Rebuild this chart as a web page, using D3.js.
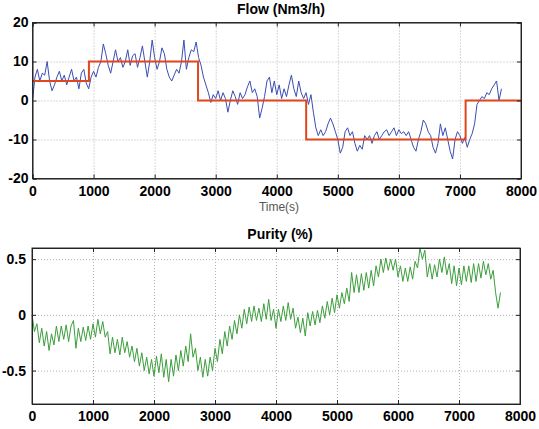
<!DOCTYPE html>
<html><head><meta charset="utf-8">
<script src="https://cdn.jsdelivr.net/npm/d3@7"></script>
<style>body{margin:0;background:#fff} svg{display:block} text{font-family:"Liberation Sans",Arial,sans-serif}</style>
</head><body><svg id="c" width="539" height="429"></svg>
<script>
// ---------- DATA ----------
const sampleStep = 40; // seconds between samples
const xTicks = [0,1000,2000,3000,4000,5000,6000,7000,8000];
const flowTicks = [-20,-10,0,10,20];
const purityTicks = [-0.5,0,0.5];
const setpointTimes = [0, 924, 2711, 4482, 7093, 8000];
const setpointValues = [5, 10, 0, -10, 0, 0];
const flowValues = [
 0,6,8,5,7,6.5,10,5,2.5,4,6,7.5,5,6.5,4,6,8,5,6,3,
 7,8,4.5,3,6,7.5,6,8.5,10,14.5,12,9,7,10,13,10,11,8.5,10,13,
 9,11.5,12,8.5,11,14,10,6,10,15.5,11,8,10,13.5,12,8,6,5,6.5,8,
 7,10,15.5,8,11,13,12.5,15,11,9,6,4,2,-0.5,1.5,0.5,2.5,0,2,0.5,
 -3,0,2.5,1,-1,2,0.5,1.5,3.5,5,2,3,1,-4.5,-2,1,5,6,2,5,
 1.5,4,0.5,3,1,4,6.5,3,1,5,2,0.5,2,-1,1.5,-3,-7,-9,-7.5,-9,
 -8,-6,-4.5,-6,-8,-10,-13.5,-12,-8,-7,-9,-8,-11,-13,-11.5,-12.5,-9,-10,-9,-11,
 -9,-8,-10,-9,-8,-7.5,-9,-8,-7,-9,-7.5,-8.5,-8,-9,-8,-10,-12,-13,-10,-8,
 -5,-6,-8,-9,-12,-13.5,-11,-6,-9,-7,-10,-13,-15,-10,-8,-9,-11,-9.5,-12,-10,
 -8.5,-6,-1,0,1,0.5,2,1.5,3,4,5,0,3
];
const purityValues = [
 0,-0.15,-0.08,-0.25,-0.12,-0.28,-0.15,-0.32,-0.17,-0.27,-0.1,-0.24,-0.1,-0.22,-0.09,-0.24,-0.1,-0.05,-0.3,-0.12,
 -0.24,-0.11,-0.23,-0.1,-0.22,-0.08,-0.2,-0.04,-0.17,-0.06,-0.2,-0.15,-0.35,-0.2,-0.34,-0.22,-0.36,-0.2,-0.34,-0.24,
 -0.38,-0.28,-0.42,-0.3,-0.46,-0.34,-0.5,-0.38,-0.53,-0.4,-0.55,-0.37,-0.52,-0.35,-0.56,-0.4,-0.6,-0.4,-0.55,-0.36,
 -0.5,-0.32,-0.46,-0.28,-0.42,-0.17,-0.38,-0.3,-0.5,-0.38,-0.56,-0.4,-0.55,-0.38,-0.5,-0.3,-0.42,-0.22,-0.35,-0.15,
 -0.28,-0.1,-0.22,-0.05,-0.17,0,-0.12,0.05,-0.08,0.07,-0.06,0.08,-0.05,0.06,-0.06,0.1,-0.04,0.14,-0.05,0.05,
 -0.12,0.05,-0.06,0.08,-0.05,0.11,-0.04,0.06,-0.12,-0.02,-0.16,-0.03,-0.19,0.02,-0.1,0.03,-0.09,0.04,-0.07,0.08,
 -0.03,0.12,0,0.15,0.02,0.18,0.06,0.2,0.1,0.24,0.12,0.38,0.2,0.36,0.2,0.37,0.22,0.38,0.24,0.4,
 0.26,0.44,0.34,0.5,0.38,0.51,0.4,0.5,0.4,0.5,0.34,0.44,0.3,0.42,0.3,0.43,0.32,0.48,0.42,0.6,
 0.5,0.58,0.34,0.46,0.32,0.45,0.34,0.5,0.38,0.52,0.36,0.46,0.28,0.44,0.26,0.42,0.27,0.44,0.3,0.44,
 0.29,0.46,0.3,0.46,0.33,0.48,0.36,0.46,0.32,0.4,0.2,0.06,0.2
];

// ---------- DRAW ----------
const svg = d3.select("#c");
const fmt = d => String(d);

function panel(o){
  const x = d3.scaleLinear().domain([0,8000]).range([o.L,o.R]);
  const y = d3.scaleLinear().domain(o.yDom).range([o.B,o.T]);
  const g = svg.append("g");
  const W = o.R-o.L, H = o.B-o.T;
  // grid
  g.append("g").attr("transform",`translate(0,${o.B})`)
    .call(d3.axisBottom(x).tickValues(xTicks).tickSize(-H).tickFormat(""))
    .call(s=>{s.select(".domain").remove();s.selectAll("line").attr("stroke","#b0b0b0").attr("stroke-dasharray","1,2");});
  g.append("g").attr("transform",`translate(${o.L},0)`)
    .call(d3.axisLeft(y).tickValues(o.yTicks).tickSize(-W).tickFormat(""))
    .call(s=>{s.select(".domain").remove();s.selectAll("line").attr("stroke","#b0b0b0").attr("stroke-dasharray","1,2");});
  o.draw(g,x,y);
  // frame
  g.append("rect").attr("x",o.L).attr("y",o.T).attr("width",W).attr("height",H)
    .attr("fill","none").attr("stroke","#333").attr("stroke-width",1);
  // axes with inward ticks
  const ax = g.append("g").attr("transform",`translate(0,${o.B})`)
    .call(d3.axisBottom(x).tickValues(xTicks).tickSize(-4).tickPadding(o.xPad).tickFormat(fmt));
  const ay = g.append("g").attr("transform",`translate(${o.L},0)`)
    .call(d3.axisLeft(y).tickValues(o.yTicks).tickSize(-4).tickPadding(o.yPad).tickFormat(fmt));
  g.append("g").attr("transform",`translate(0,${o.T})`)
    .call(d3.axisTop(x).tickValues(xTicks).tickSize(-4).tickFormat(""));
  g.append("g").attr("transform",`translate(${o.R},0)`)
    .call(d3.axisRight(y).tickValues(o.yTicks).tickSize(-4).tickFormat(""));
  g.selectAll(".domain").attr("stroke","#222");
  g.selectAll(".tick line").filter(function(){return !this.getAttribute("stroke-dasharray");}).attr("stroke","#222");
  [ax,ay].forEach(a=>a.selectAll("text").attr("font-family","'Liberation Sans',Arial,sans-serif")
     .attr("font-size",14).attr("font-weight","bold").attr("fill","#000"));
  // title
  svg.append("text").attr("x",o.titleX).attr("y",o.titleY).attr("text-anchor","middle")
    .attr("font-size",14).attr("font-weight","bold").attr("fill","#000").text(o.title);
  return {x,y};
}

panel({
  L:32.5,R:521,T:22.5,B:178.5,yDom:[-20,20],yTicks:flowTicks,xPad:7.5,yPad:4,
  title:"Flow (Nm3/h)",titleX:281,titleY:14,
  draw:(g,x,y)=>{
    const flow = flowValues.map((v,i)=>[i*sampleStep,v]);
    g.append("path").datum(flow).attr("fill","none").attr("stroke","#3b4db3").attr("stroke-width",1)
      .attr("d",d3.line().x(d=>x(d[0])).y(d=>y(d[1])));
    const sp = setpointTimes.map((t,i)=>[t,setpointValues[i]]);
    g.append("path").datum(sp).attr("fill","none").attr("stroke","#e2461c").attr("stroke-width",2)
      .attr("d",d3.line().curve(d3.curveStepAfter).x(d=>x(d[0])).y(d=>y(d[1])));
  }
});
svg.append("text").attr("x",279).attr("y",211).attr("text-anchor","middle")
  .attr("font-size",12).attr("fill","#555").text("Time(s)");

panel({
  L:32,R:520,T:248,B:404,yDom:[-0.8,0.6],yTicks:purityTicks,xPad:7,yPad:6,
  title:"Purity (%)",titleX:280,titleY:239,
  draw:(g,x,y)=>{
    const pur = purityValues.map((v,i)=>[i*sampleStep,v]);
    g.append("path").datum(pur).attr("fill","none").attr("stroke","#3c9e3c").attr("stroke-width",1)
      .attr("d",d3.line().x(d=>x(d[0])).y(d=>y(d[1])));
  }
});
</script></body></html>
